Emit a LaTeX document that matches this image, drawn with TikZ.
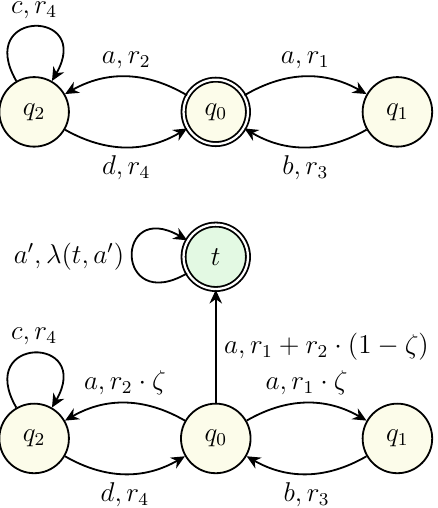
\documentclass[tikz,border=0pt]{standalone}
\usepackage{xcolor}
\usepackage{tikz}
\usetikzlibrary{arrows.meta, positioning}
\definecolor{stateyellow}{HTML}{FCFCEA}
\definecolor{stategreen}{HTML}{E3F9E3}

\begin{document}
\begin{tikzpicture}[
    node distance=2.82cm, on grid,
    every node/.style={font=\large},
    qstate/.style={circle, draw=black, fill=#1, thick, minimum size=1.08cm, inner sep=0pt},
    qstate/.default=stateyellow,
    qfinal/.style={qstate=#1, double, double distance=1pt, minimum size=1.0cm},
    qfinal/.default=stateyellow,
    trans/.style={thick, -{Stealth[length=6pt, width=5.5pt]}},
]
\useasboundingbox (0,0) rectangle (6.8,7.887);

% with the final state t
\node[qfinal] (q0) at (3.35,6.15) {$q_0$};
\node[qstate, right=of q0] (q1) {$q_1$};
\node[qstate, left=of q0] (q2) {$q_2$};

\draw[trans] (q0) to[bend left=30] node[above] {$a, r_1$} (q1);
\draw[trans] (q1) to[bend left=30] node[below] {$b, r_3$} (q0);
\draw[trans] (q0) to[bend right=30] node[above] {$a, r_2$} (q2);
\draw[trans] (q2) to[bend right=30] node[below] {$d, r_4$} (q0);
\draw[trans] (q2) to[loop, out=120, in=60, looseness=6] node[above] {$c, r_4$} (q2);

% after adding t
\node[qfinal=stategreen, below=2.25cm of q0] (t) {$t$};
\node[qstate, below=of t] (p0) {$q_0$};
\node[qstate, right=of p0] (p1) {$q_1$};
\node[qstate, left=of p0] (p2) {$q_2$};

\draw[trans] (t) to[loop, out=210, in=150, looseness=6.5] node[left] {$a', \lambda(t, a')$} (t);
\draw[trans] (p0) -- node[right] {$a, r_1 + r_2 \cdot (1 - \zeta)$} (t);
\draw[trans] (p0) to[bend left=30] node[above] {$a, r_1 \cdot \zeta$} (p1);
\draw[trans] (p1) to[bend left=30] node[below] {$b, r_3$} (p0);
\draw[trans] (p0) to[bend right=30] node[above] {$a, r_2 \cdot \zeta$} (p2);
\draw[trans] (p2) to[bend right=30] node[below] {$d, r_4$} (p0);
\draw[trans] (p2) to[loop, out=120, in=60, looseness=6] node[above] {$c, r_4$} (p2);

\end{tikzpicture}
\end{document}
